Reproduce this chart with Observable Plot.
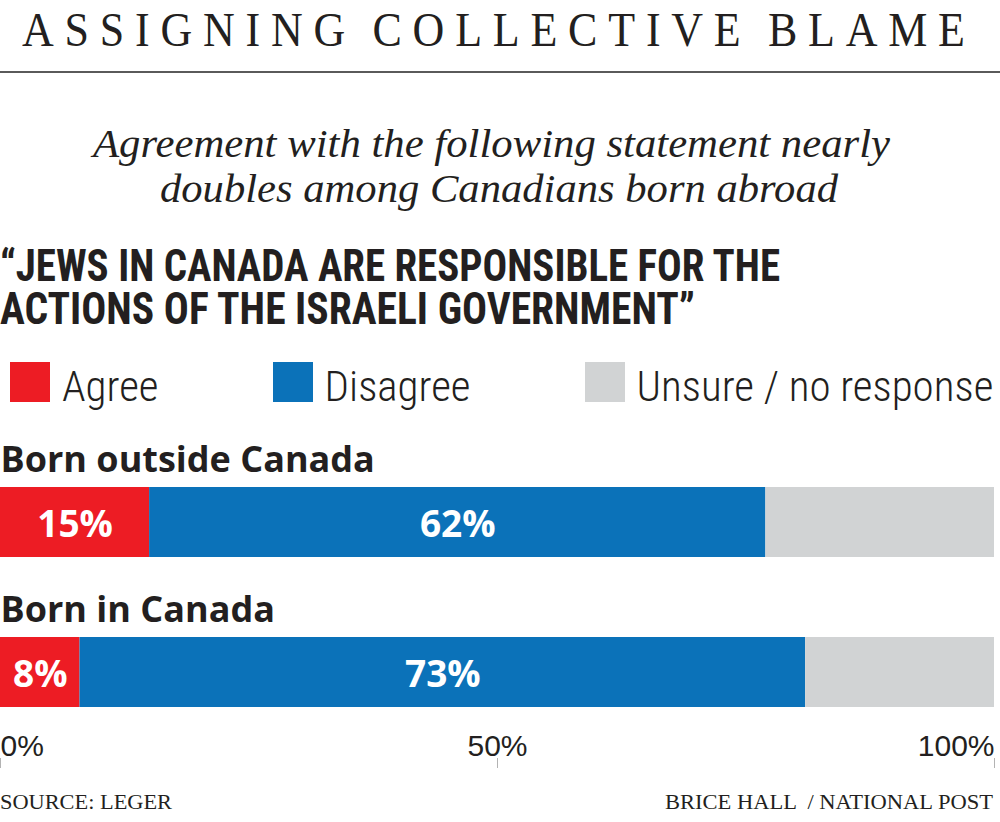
<!DOCTYPE html>
<html><head><meta charset="utf-8">
<script src="https://cdn.jsdelivr.net/npm/d3@7"></script>
<script src="https://cdn.jsdelivr.net/npm/@observablehq/plot@0.6"></script>
<style>
body{margin:0;background:#fff}
#page{position:relative;width:1000px;height:822px;overflow:hidden;color:#231f20;background:#fff}
.t{position:absolute;white-space:pre;line-height:1;transform-origin:0 0}
.serif{font-family:'Liberation Serif',serif}
.head{font-family:'Roboto Condensed',sans-serif;font-weight:700;font-size:44px;line-height:40px}
#rule{position:absolute;left:0;top:71px;width:1000px;height:2px;background:#5a5a5a}
#legend{position:absolute;left:10px;top:362px;display:flex;align-items:flex-start}
#legend .item{display:flex;align-items:flex-start;margin-right:114px}
#legend .sw{width:40px;height:40px;margin-right:12px}
#legend .lab{font-family:'Roboto Condensed',sans-serif;font-weight:300;font-size:43px;line-height:43px;margin-top:3px;white-space:nowrap}
#chart{position:absolute;left:0;top:430px}
</style></head><body>
<div id="page">
  <div class="t serif" id="title" data-w="943" style="left:22px;top:5px;font-size:49px;letter-spacing:12px;word-spacing:-6px"></div>
  <div id="rule"></div>
  <div class="t serif sub" data-w="797" style="left:93px;top:124px;font-size:40px;font-style:italic"></div>
  <div class="t serif sub" data-w="678" style="left:160px;top:169px;font-size:40px;font-style:italic"></div>
  <div class="t head" data-w="780" style="left:0;top:246px"></div>
  <div class="t head" data-w="695" style="left:0;top:289px"></div>
  <div id="legend"></div>
  <div id="chart"></div>
  <div class="t serif" id="source" data-w="172" style="left:0;top:792px;font-size:21px"></div>
  <div class="t serif" id="credit" data-w="328" style="left:665px;top:792px;font-size:21px"></div>
</div>
<script>
// Text content
const title = "ASSIGNING COLLECTIVE BLAME";
const subtitleLines = ["Agreement with the following statement nearly", "doubles among Canadians born abroad"];
const headingLines = ["“JEWS IN CANADA ARE RESPONSIBLE FOR THE", "ACTIONS OF THE ISRAELI GOVERNMENT”"];
const source = "SOURCE: LEGER";
const credit = "BRICE HALL  / NATIONAL POST";

// Survey responses, in percent
const groups = ["Born outside Canada", "Born in Canada"];
const responses = ["Agree", "Disagree", "Unsure / no response"];
const agree = [15, 8];
const disagree = [62, 73];
const unsure = [23, 19];
const colors = ["#ed1c24", "#0b72b9", "#d1d3d4"];
const xTicks = [0, 50, 100];

const series = [agree, disagree, unsure];
const rows = groups.flatMap((group, i) =>
  responses.map((response, j) => ({group, response, value: series[j][i]}))
);

document.getElementById("title").textContent = title;
document.querySelectorAll(".sub").forEach((el, i) => el.textContent = subtitleLines[i]);
document.querySelectorAll(".head").forEach((el, i) => el.textContent = headingLines[i]);
document.getElementById("source").textContent = source;
document.getElementById("credit").textContent = credit;

// Legend swatches
const legend = document.getElementById("legend");
responses.forEach((r, i) => {
  const item = document.createElement("div");
  item.className = "item";
  const sw = document.createElement("div");
  sw.className = "sw";
  sw.style.background = colors[i];
  const lab = document.createElement("div");
  lab.className = "lab";
  lab.textContent = r;
  item.append(sw, lab);
  legend.append(item);
});

const boldSans = "'Open Sans', Roboto, sans-serif";

const chart = Plot.plot({
  width: 1000,
  height: 345,
  marginTop: 0,
  marginLeft: 0,
  marginRight: 6,
  marginBottom: 17,
  x: {domain: [0, 100]},
  y: {domain: groups, range: [57, 277], paddingInner: 80 / 150, paddingOuter: 0, axis: null},
  color: {domain: responses, range: colors},
  style: {fontFamily: boldSans, background: "white", overflow: "visible"},
  marks: [
    Plot.barX(rows, Plot.stackX({x: "value", y: "group", fill: "response", order: responses})),
    Plot.text(rows.filter(d => d.response !== responses[2]), Plot.stackX({
      x: "value", y: "group", z: "response", order: responses,
      text: d => d.value + "%", fill: "white", fontSize: 37, fontWeight: 700, dy: 3
    })),
    Plot.text(groups, {
      y: d => d, text: d => d, frameAnchor: "left", textAnchor: "start",
      lineAnchor: "bottom", dy: -51, fontSize: 36, fontWeight: 700, fill: "#231f20"
    }),
    Plot.axisX({ticks: xTicks, tickSize: 10, tickFormat: () => "", stroke: "#b3b3b3", label: null}),
    ...xTicks.map((t, i) => Plot.text([t], {
      x: d => d, text: d => d + "%", frameAnchor: "bottom", lineAnchor: "bottom", dy: -3,
      textAnchor: i === 0 ? "start" : i === xTicks.length - 1 ? "end" : "middle",
      fontSize: 30, fontFamily: "'Liberation Sans', Arial, sans-serif", fill: "#231f20"
    }))
  ]
});
document.getElementById("chart").append(chart);

// Stretch each text line to its set width
function fit() {
  document.querySelectorAll("[data-w]").forEach(el => {
    el.style.transform = "none";
    const ls = parseFloat(getComputedStyle(el).letterSpacing) || 0;
    const w = el.getBoundingClientRect().width - ls;
    el.style.transform = `scaleX(${el.dataset.w / w})`;
  });
}
fit();
document.fonts.ready.then(fit);
</script>
</body></html>
